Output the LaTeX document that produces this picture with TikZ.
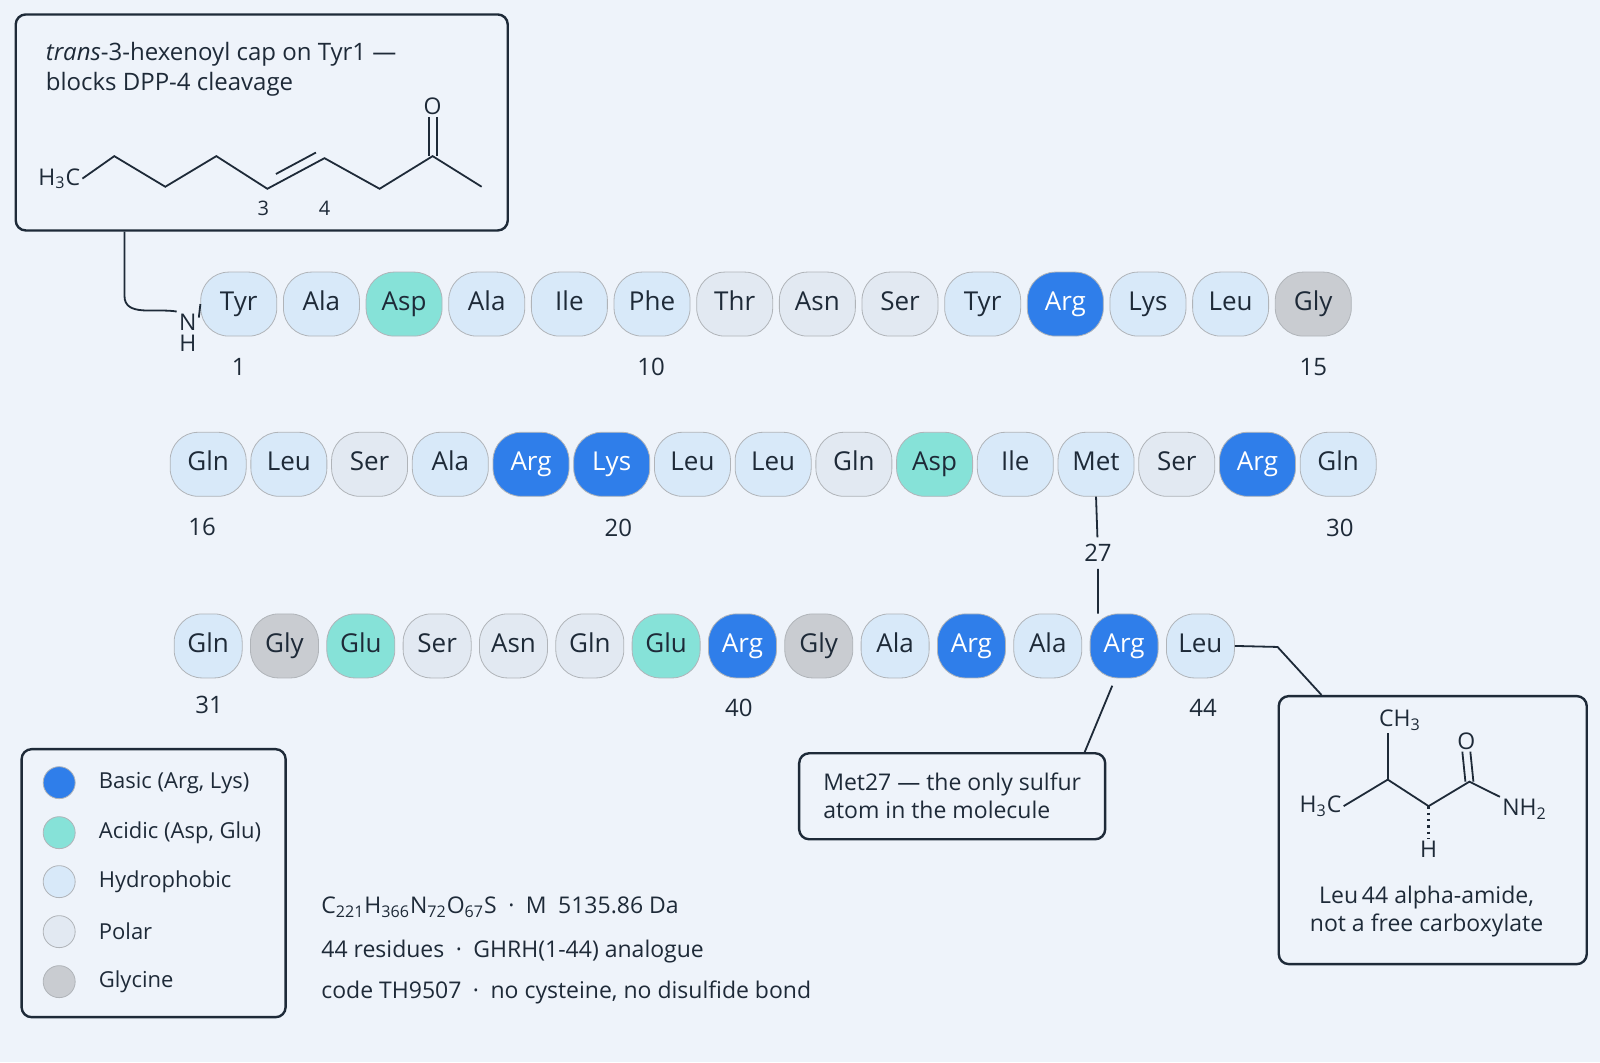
\documentclass[tikz,border=0pt]{standalone}
\usepackage{fontspec}
\setmainfont{Open Sans}
\usetikzlibrary{positioning,calc}
\definecolor{bg}{HTML}{EEF3FA}
\definecolor{basic}{HTML}{2F7EEA}
\definecolor{acidic}{HTML}{86E2D8}
\definecolor{hydro}{HTML}{D8E9F9}
\definecolor{polar}{HTML}{E2E9F2}
\definecolor{glycine}{HTML}{C9CCD1}
\definecolor{ink}{HTML}{1E2A38}
\newcommand\sbs[1]{\textsubscript{#1}}
\tikzset{
  res/.style={draw=ink!35, rounded corners=14pt, minimum height=32pt, minimum width=#1, inner sep=0pt, text height=1.6ex, text depth=.35ex, font=\fontsize{13}{13}\selectfont, text=ink},
  res/.default=38pt,
  B/.style={fill=basic, text=white}, A/.style={fill=acidic}, H/.style={fill=hydro},
  P/.style={fill=polar}, G/.style={fill=glycine},
  num/.style={font=\fontsize{12}{12}\selectfont, text=ink},
  box/.style={draw=ink, line width=1.2pt, rounded corners=5pt},
  bond/.style={draw=ink, line width=0.9pt},
  chem/.style={font=\fontsize{11.5}{11.5}\selectfont, text=ink, inner sep=1pt},
  lab/.style={font=\fontsize{11.5}{14}\selectfont, text=ink, align=left},
}
\begin{document}
\begin{tikzpicture}[x=0.5102pt,y=-0.5102pt]
	\fill[bg] (0,0) rectangle (1568,1041);
	\useasboundingbox (0,0) rectangle (1568,1041);
	% residue chain
	\foreach \n/\s [count=\i] in {Tyr/H,Ala/H,Asp/A,Ala/H,Ile/H,Phe/H,Thr/P,Asn/P,Ser/P,Tyr/H,Arg/B,Lys/H,Leu/H,Gly/G}
		\node[res, \s] (r\i) at (234+81*\i-81,298) {\n};
	\foreach \n/\s [count=\i from 15] in {Gln/H,Leu/H,Ser/P,Ala/H,Arg/B,Lys/B,Leu/H,Leu/H,Gln/P,Asp/A,Ile/H,Met/H,Ser/P,Arg/B,Gln/H}
		\node[res, \s] (r\i) at (204+79.1*\i-79.1*15,455) {\n};
	\foreach \n/\s [count=\i from 30] in {Gln/H,Gly/G,Glu/A,Ser/P,Asn/P,Gln/P,Glu/A,Arg/B,Gly/G,Ala/H,Arg/B,Ala/H,Arg/B,Leu/H}
		\node[res=34pt, \s] (r\i) at (204+74.8*\i-74.8*30,633) {\n};
	% numbers
	\foreach \i/\x/\y in {1/234/360,10/638/360,15/1287/360,16/198/516,20/606/517,30/1313/517,31/205/691,40/724/694,44/1179/694}
		\node[num] (n\i) at (\x,\y) {\i};
	\node[num, fill=bg] (n27) at (1076,542) {27};
	\draw[bond] (r26.south) -- (n27) -- (r42.north -| n27);
	% N-terminal cap
	\node[box, minimum width=246pt, minimum height=108pt] (cap) at (256.5,120) {};
	\node[lab, anchor=north west, font=\fontsize{12}{15}\selectfont] (capt) at (38,34) {\textit{trans}-3-hexenoyl cap on Tyr1 —\\blocks DPP-4 cleavage};
	\node[chem] (ch3) at (58,175) {H\sbs{3}C};
	\coordinate (c1) at (112,153); \coordinate (c2) at (162,183); \coordinate (c3) at (212,153);
	\coordinate (c4) at (262,185); \coordinate (c5) at (318,155); \coordinate (c6) at (372,185);
	\coordinate (c7) at (424,153); \coordinate (c8) at (472,183);
	\draw[bond] (ch3.east) -- (c1) -- (c2) -- (c3) -- (c4) -- (c5) -- (c6) -- (c7) -- (c8);
	\draw[bond] ($(c4)!0.15!(c5)+(0,-10)$) -- ($(c4)!0.85!(c5)+(0,-10)$);
	\node[chem] (o1) at (424,104) {O};
	\draw[bond] ([xshift=-2pt]o1.south) -- ([xshift=-2pt]c7); \draw[bond] ([xshift=2pt]o1.south) -- ([xshift=2pt]c7);
	\node[chem, font=\fontsize{10}{10}\selectfont] (l3) at (258,204) {3};
	\node[chem, font=\fontsize{10}{10}\selectfont] (l4) at (318,204) {4};
	\node[chem, align=center] (nh) at (184,326) {N\\[-1pt]H};
	\coordinate (k0) at (122,290);
	\draw[bond] (cap.south -| k0) -- (k0) to[out=-90,in=170] (nh.north west);
	\draw[bond] ([yshift=-3pt]nh.north east) -- (r1.west);
	% Met27 note
	\node[box, lab, anchor=north west, minimum width=153pt, minimum height=43pt, inner xsep=9pt] (met) at (782,737) {Met27 — the only sulfur\\atom in the molecule};
	\coordinate (m0) at (1090,672);
	\draw[bond] (m0) -- (1063,737);
	% C-terminal amide
	\node[box, anchor=north west, minimum width=154pt, minimum height=134pt] (amide) at (1252,681) {};
	\coordinate (a0) at (1252,634);
	\draw[bond] (r43.east) -- (a0) -- (1295,681);
	\node[chem] (h3c) at (1294,790) {H\sbs{3}C};
	\coordinate (d1) at (1360,764); \coordinate (d2) at (1400,790); \coordinate (d3) at (1440,766);
	\node[chem] (me) at (1372,706) {CH\sbs{3}};
	\node[chem] (o2) at (1437,726) {O};
	\node[chem] (nh2) at (1494,793) {NH\sbs{2}};
	\node[chem] (hh) at (1400,832) {H};
	\draw[bond] (h3c.east) -- (d1) -- (d2) -- (d3) -- (nh2.north west);
	\draw[bond] (d1) -- (me.south -| d1);
	\draw[bond] ([xshift=-2pt]o2.south) -- ([xshift=-2pt]d3); \draw[bond] ([xshift=2pt]o2.south) -- ([xshift=2pt]d3);
	\draw[bond, dash pattern=on 1.2pt off 2pt, line width=1.6pt] (d2) -- (hh.north);
	\node[lab, align=center] (amt) at (1398,893) {Leu\,44 alpha-amide,\\not a free carboxylate};
	% legend
	\node[box, anchor=north west, minimum width=132pt, minimum height=134pt] (leg) at (20,733) {};
	\foreach \s/\t/\y in {B/{Basic (Arg, Lys)}/767,A/{Acidic (Asp, Glu)}/816,H/Hydrophobic/864,P/Polar/913,G/Glycine/962}{
		\node[circle, draw=ink!35, \s, minimum size=16pt] (k\y) at (58,\y) {};
		\node[lab, anchor=west, font=\fontsize{11}{11}\selectfont] (t\y) at (90,\y) {\t};
	}
	% summary
	\node[lab, anchor=west] (f1) at (308,889) {C\sbs{221}H\sbs{366}N\sbs{72}O\sbs{67}S\enspace·\enspace M\enspace 5135.86 Da};
	\node[lab, anchor=west] (f2) at (308,932) {44 residues\enspace·\enspace GHRH(1-44) analogue};
	\node[lab, anchor=west] (f3) at (308,973) {code TH9507\enspace·\enspace no cysteine, no disulfide bond};
\end{tikzpicture}
\end{document}
